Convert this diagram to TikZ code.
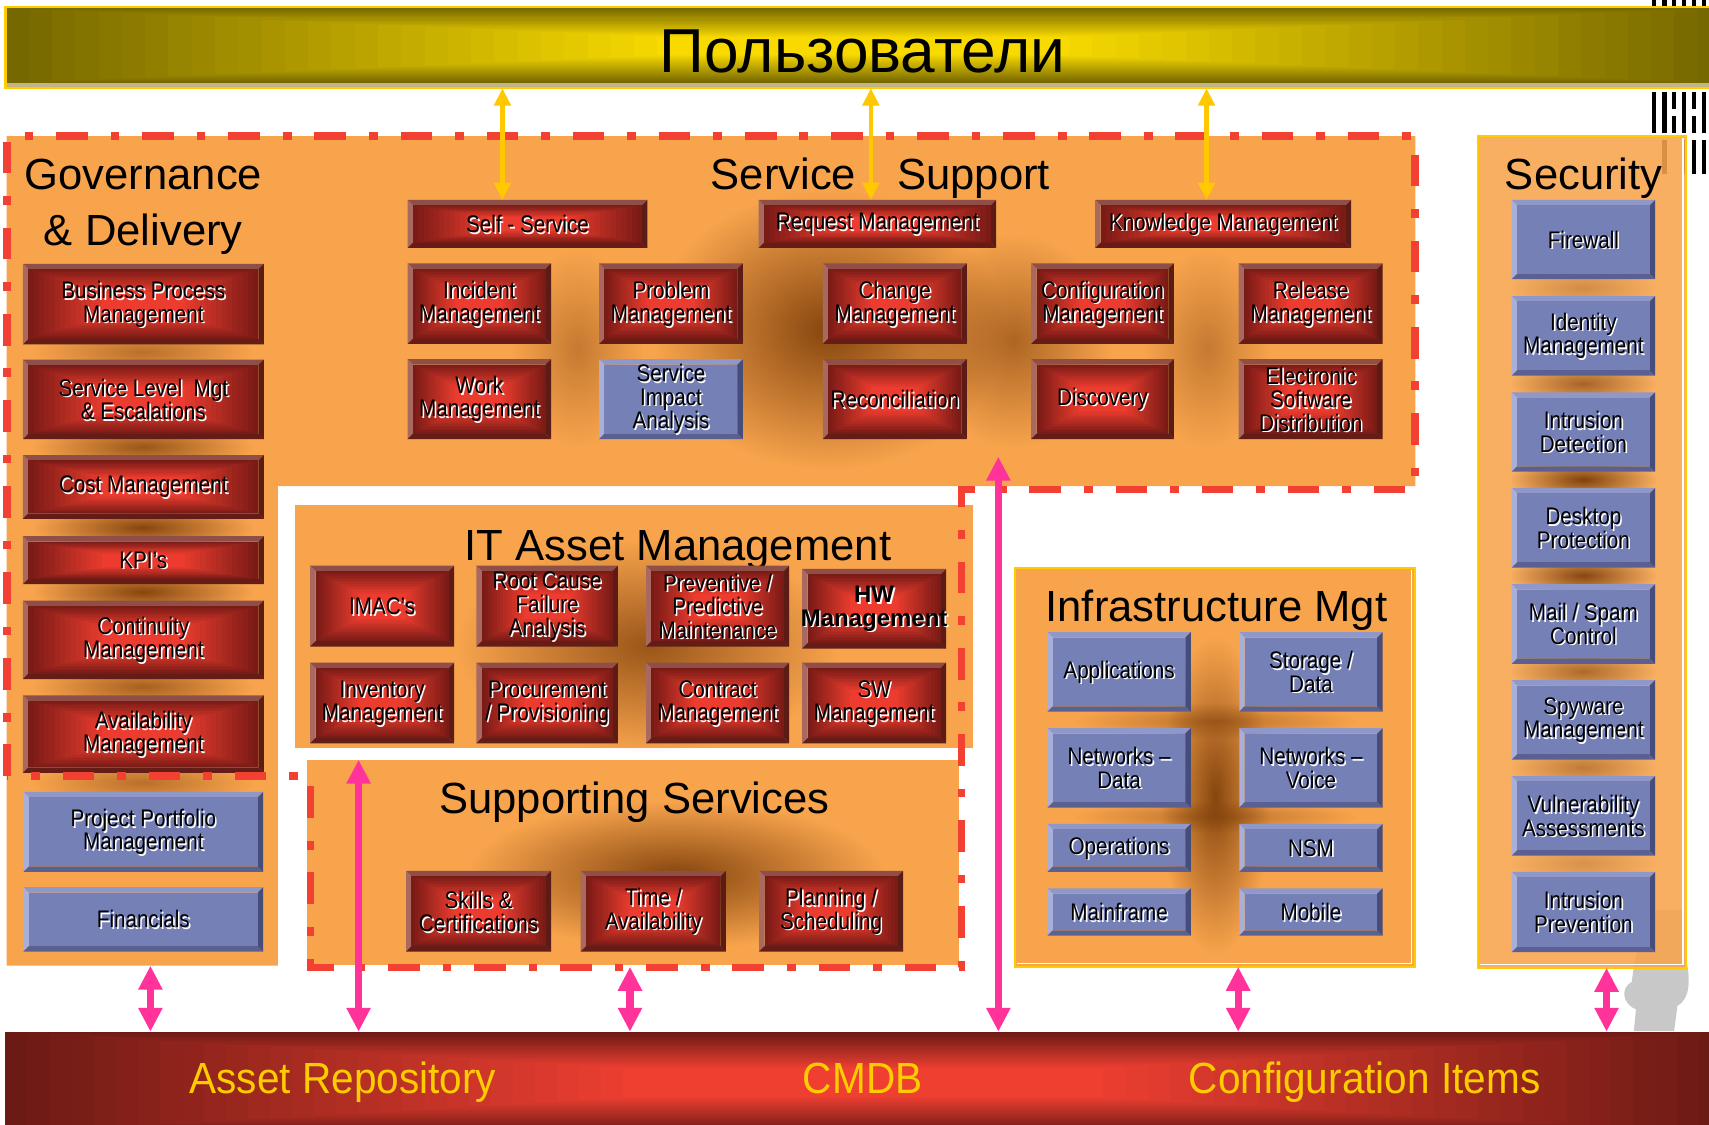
\documentclass[tikz,border=0pt]{standalone}
\usepackage{fontspec}
\setmainfont{Liberation Sans}
\newfontfamily\narrowfam[FakeStretch=0.86]{Liberation Sans}
\newfontfamily\barfam[FakeStretch=0.93]{Liberation Sans}
\newfontfamily\hwfam{Liberation Sans}
\usetikzlibrary{arrows.meta,fadings}
\tikzfading[name=glowfade, inner color=transparent!0, outer color=transparent!100]

\definecolor{orangec}{HTML}{F8A44D}
\definecolor{glowc}{HTML}{7A3C08}
\definecolor{rtopc}{HTML}{904E48}
\definecolor{rleftc}{HTML}{A86A60}
\definecolor{rbotc}{HTML}{641C16}
\definecolor{rrightc}{HTML}{5C1B14}
\definecolor{rhi}{HTML}{EC3C2F}
\definecolor{rdk}{HTML}{7A1B15}
\definecolor{btopc}{HTML}{8F98C8}
\definecolor{bleftc}{HTML}{A8AFD8}
\definecolor{bbotc}{HTML}{5A6192}
\definecolor{brightc}{HTML}{474D7A}
\definecolor{bfillc}{HTML}{7480B6}
\definecolor{dashc}{HTML}{F24033}
\definecolor{pinkc}{HTML}{FF3399}
\definecolor{yelc}{HTML}{FFC800}
\definecolor{yborder}{HTML}{FFCC00}
\definecolor{olivec}{HTML}{766800}
\definecolor{ybright}{HTML}{F8DA00}
\definecolor{maroonc}{HTML}{6C1A14}
\definecolor{cmdbred}{HTML}{EE3F31}
\definecolor{stripc}{HTML}{C2B487}
\definecolor{statuec}{HTML}{C8C8C8}

\newcommand\boxfont{\narrowfam\fontsize{22}{21.5}\selectfont}
\newcommand\titlefont{\fontsize{40}{48}\selectfont}

\tikzset{
  lbl/.style={font=\boxfont, align=center, inner sep=0pt, text=black},
  boxn/.style={inner sep=0pt, outer sep=0pt, draw=none},
  ttl/.style={font=\titlefont, inner sep=0pt, anchor=base, text=black},
  barlbl/.style={font=\barfam\fontsize{40}{40}\selectfont, inner sep=0pt, anchor=base, text=yborder},
  glow/.style={fill=glowc, path fading=glowfade, fit fading=true},
  dashline/.style={draw=dashc, line width=7pt, dash pattern=on 29pt off 21pt on 8pt off 21pt},
  parrow/.style={draw=pinkc, line width=6.5pt, {Triangle[length=22pt,width=21pt]}-{Triangle[length=22pt,width=21pt]}},
  yarrow/.style={draw=yelc, line width=4pt, {Triangle[length=16pt,width=15pt]}-{Triangle[length=16pt,width=15pt]}},
}

% rectangular (from centre) gradient: x1 y1 x2 y2 edge centre steps maxinset
\newcommand\rectgrad[8]{%
  \foreach \gri in {0,...,#7}{%
    \pgfmathsetmacro\grf{#8*\gri/#7}%
    \pgfmathsetmacro\grx{((#3)-(#1))*\grf}%
    \pgfmathsetmacro\gry{((#4)-(#2))*\grf}%
    \pgfmathtruncatemacro\grp{100*\gri/#7}%
    \fill[#6!\grp!#5] (#1+\grx,#2+\gry) rectangle (#3-\grx,#4-\gry);
  }}

% invisible named area: name x1 y1 x2 y2
\newcommand\areanode[5]{%
  \node[boxn, minimum width={((#4)-(#2))*1pt}, minimum height={((#5)-(#3))*1pt}] (#1) at ({((#2)+(#4))/2},{((#3)+(#5))/2}) {};}

% bevel frame: x1 y1 x2 y2 top left bottom right
\newcommand\bevel[8]{%
  \fill[#5] (#1,#2) -- (#3,#2) -- (#3-5,#2+5) -- (#1+5,#2+5) -- cycle;
  \fill[#6] (#1,#2) -- (#1+5,#2+5) -- (#1+5,#4-5) -- (#1,#4) -- cycle;
  \fill[#7] (#1,#4) -- (#1+5,#4-5) -- (#3-5,#4-5) -- (#3,#4) -- cycle;
  \fill[#8] (#3,#2) -- (#3,#4) -- (#3-5,#4-5) -- (#3-5,#2+5) -- cycle;}

% labels with white shadow
\newcommand\boxlabel[2]{%
  \node[lbl, text=white] (#1s) at ([shift={(1.5,1.5)}]#1.center) {#2};
  \node[lbl] (#1t) at (#1.center) {#2};}

% red box: name x1 y1 x2 y2 text
\newcommand\redbx[6]{%
  \bevel{#2}{#3}{#4}{#5}{rtopc}{rleftc}{rbotc}{rrightc}
  \rectgrad{#2+5}{#3+5}{#4-5}{#5-5}{rdk}{rhi}{14}{0.32}
  \areanode{#1}{#2}{#3}{#4}{#5}
  \boxlabel{#1}{#6}}

% blue box
\newcommand\bluebx[6]{%
  \bevel{#2}{#3}{#4}{#5}{btopc}{bleftc}{bbotc}{brightc}
  \fill[bfillc] (#2+5,#3+5) rectangle (#4-5,#5-5);
  \areanode{#1}{#2}{#3}{#4}{#5}
  \boxlabel{#1}{#6}}

\begin{document}
\begin{tikzpicture}[x=1pt,y=-1pt]
\useasboundingbox (0,0) rectangle (1568,1032);
\fill[white] (0,0) rectangle (1568,1032);

% ---- stray stripes and statue at right edge
\foreach \sx in {1515.5,1525,1534,1543,1552,1561.5}{
  \fill[black] (\sx,0) rectangle (\sx+4,6);
  \fill[black] (\sx,84) rectangle (\sx+4,122);
}
\foreach \sx in {1525,1543,1552,1561.5}{
  \fill[black] (\sx,128) rectangle (\sx+4,160);
}
\fill[white] (1534,100) rectangle (1538,106);
\fill[white] (1552,100) rectangle (1556,106);
\fill[statuec] (1499,946) -- (1501,926) .. controls (1488,921) and (1487,906) .. (1497,901)
  -- (1500,880) -- (1508,858) -- (1514,835) -- (1545,835) -- (1547,880)
  .. controls (1551,898) and (1551,916) .. (1539,923) -- (1536,946) -- cycle;

% ---- named areas
\areanode{users}{5}{6.7}{1579}{81}
\areanode{cmdb}{5}{946.6}{1579}{1040}
\areanode{gov}{6}{125}{255}{886}
\areanode{ssup}{6}{125}{1298.5}{446}
\areanode{itam}{271}{463}{893}{686}
\areanode{supp}{282}{697}{880}{885}
\areanode{infra}{931}{521}{1298}{887}
\areanode{sec}{1356}{124.5}{1547}{888}

% ---- top bar
\rectgrad{5}{7.7}{1579}{76}{olivec}{ybright}{28}{0.38}
\fill[stripc] (5,76) rectangle (1579,80);
\draw[yborder, line width=2pt] (users.north west) rectangle (users.south east);
\node[font=\fontsize{57}{57}\selectfont, anchor=base, inner sep=0pt] (userst) at (791.5,66.7) {Пользователи};

% ---- bottom bar
\rectgrad{5}{946.6}{1579}{1040}{maroonc}{cmdbred}{28}{0.36}
\node[barlbl] (assetrep) at (314.5,1003) {Asset Repository};
\node[barlbl] (cmdbt) at (791.5,1003) {CMDB};
\node[barlbl] (confitems) at (1252,1003) {Configuration Items};

% ---- orange containers
\fill[orangec] (gov.north west) -- (ssup.north east) -- (ssup.south east) -- (ssup.south -| gov.east)
  -- (gov.south east) -- (gov.south west) -- cycle;
\fill[orangec] (itam.north west) rectangle (itam.south east);
\fill[orangec] (supp.north west) rectangle (supp.south east);
\fill[orangec] (infra.north west) rectangle (infra.south east);
\draw[yborder, line width=2pt] (infra.north west) rectangle (infra.south east);
\draw[white, line width=1.2pt] (933,884) -- (1295,884) -- (1295,523);
\fill[orangec, fill opacity=0.88] (sec.north west) rectangle (sec.south east);
\draw[yborder, line width=2pt] (sec.north west) rectangle (sec.south east);
\draw[white, line width=1.2pt] (1358,885) -- (1544,885) -- (1544,126.5);

% ---- brown glows
\foreach \gy/\go in {323/0.5,410/0.75,484/0.9,543/0.9,630/0.65,718/0.5}{
  \fill[glow, fill opacity=\go] (30,\gy-22) rectangle (232,\gy+22);
}
\fill[glow, fill opacity=0.9] (600,175) rectangle (920,430);
\fill[glow, fill opacity=0.6] (840,215) rectangle (1020,410);
\fill[glow, fill opacity=0.4] (470,230) rectangle (590,410);
\fill[glow, fill opacity=0.4] (1050,230) rectangle (1165,410);
\fill[glow, fill opacity=0.75] (420,495) rectangle (770,690);
\fill[glow, fill opacity=0.9] (430,735) rectangle (810,870);
\fill[glow, fill opacity=0.9] (1065,585) rectangle (1165,875);
\fill[glow, fill opacity=0.5] (985,645) rectangle (1245,678);
\fill[glow, fill opacity=0.5] (985,734) rectangle (1245,764);
\foreach \gy/\go in {264/0.3,352/0.65,440/0.95,528/0.9,616/0.6,704/0.45,792/0.25}{
  \fill[glow, fill opacity=\go] (1385,\gy-20) rectangle (1520,\gy+20);
}

% ---- titles
\node[ttl] (govt1) at (131.5,174) {Governance};
\node[ttl] (govt2) at (131.5,225) {\& Delivery};
\node[ttl, anchor=base west] (sst1) at (652,174) {Service};
\node[ttl, anchor=base west] (sst2) at (823,174) {Support};
\node[ttl] (sect) at (1453,174) {Security};
\node[ttl] (itamt) at (622,514) {IT Asset Management};
\node[ttl] (infrat) at (1116,570) {Infrastructure Mgt};
\node[ttl] (suppt) at (582,746) {Supporting Services};

% ---- Governance & Delivery boxes
\redbx{bpm}{21}{242}{242}{316}{Business Process\\Management}
\redbx{slm}{21}{330}{242}{403}{Service Level\ \ Mgt\\\& Escalations}
\redbx{cost}{21}{417.5}{242}{476}{Cost Management}
\redbx{kpi}{21}{492}{242}{536}{KPI’s}
\redbx{cont}{21}{551}{242}{623}{Continuity\\Management}
\redbx{avail}{21}{638}{242}{709}{Availability\\Management}
\bluebx{ppm}{21.5}{726.5}{241.5}{800}{Project Portfolio\\Management}
\bluebx{fin}{21.5}{814}{241.5}{873}{Financials}

% ---- Service Support boxes
\redbx{self}{374}{183.5}{594}{227.5}{Self - Service}
\redbx{req}{696}{183.5}{914}{227.5}{Request Management}
\redbx{know}{1004.7}{183.5}{1239.6}{227.5}{Knowledge Management}
\redbx{inc}{374}{241.6}{505.6}{315.6}{Incident\\Management}
\redbx{prob}{549.6}{241.6}{681.6}{315.6}{Problem\\Management}
\redbx{chg}{755}{241.6}{887}{315.6}{Change\\Management}
\redbx{conf}{946}{241.6}{1077}{315.6}{Configuration\\Management}
\redbx{rel}{1136.5}{241.6}{1268.6}{315.6}{Release\\Management}
\redbx{work}{374}{329.5}{505.6}{402.8}{Work\\Management}
\bluebx{sia}{549.6}{329.5}{681.6}{402.8}{Service\\Impact\\Analysis}
\redbx{recon}{755}{329.5}{887}{402.8}{Reconciliation}
\redbx{disc}{946}{329.5}{1077}{402.8}{Discovery}
\redbx{esd}{1136.5}{329.5}{1268.6}{402.8}{Electronic\\Software\\Distribution}

% ---- IT Asset Management boxes
\redbx{imac}{284.5}{519}{416.7}{593.3}{IMAC’s}
\redbx{rcfa}{437}{519}{567}{593.3}{Root Cause\\Failure\\Analysis}
\redbx{prev}{592.7}{519}{724}{593.3}{Preventive /\\Predictive\\Maintenance}
\redbx{hw}{736}{522}{868}{595}{{\hwfam\bfseries HW}\\{\hwfam\bfseries Management}}
\redbx{inv}{284.5}{608}{416.7}{682}{Inventory\\Management}
\redbx{proc}{437}{608}{567}{682}{Procurement\\/ Provisioning}
\redbx{contr}{592.7}{608}{724}{682}{Contract\\Management}
\redbx{sw}{736}{608}{868}{682}{SW\\Management}

% ---- Supporting Services boxes
\redbx{skills}{372.5}{799}{505.6}{873}{Skills \&\\Certifications}
\redbx{time}{532.8}{799}{666}{873}{Time /\\Availability}
\redbx{plan}{696.5}{799}{828.5}{873}{Planning /\\Scheduling}

% ---- Infrastructure Mgt boxes
\bluebx{app}{961}{580}{1092.5}{653}{Applications}
\bluebx{stor}{1137}{580}{1268.6}{653}{Storage /\\Data}
\bluebx{netd}{961}{668}{1092.5}{741}{Networks –\\Data}
\bluebx{netv}{1137}{668}{1268.6}{741}{Networks –\\Voice}
\bluebx{ops}{961}{756}{1092.5}{800}{Operations}
\bluebx{nsm}{1137}{756}{1268.6}{800}{NSM}
\bluebx{mainf}{961}{815}{1092.5}{858.5}{Mainframe}
\bluebx{mob}{1137}{815}{1268.6}{858.5}{Mobile}

% ---- Security boxes
\bluebx{fw}{1387}{183.5}{1518.5}{256}{Firewall}
\bluebx{idm}{1387}{271.6}{1518.5}{344.7}{Identity\\Management}
\bluebx{ids}{1387}{360}{1518.5}{432.8}{Intrusion\\Detection}
\bluebx{dp}{1387}{447.7}{1518.5}{520.7}{Desktop\\Protection}
\bluebx{mail}{1387}{536}{1518.5}{609}{Mail / Spam\\Control}
\bluebx{spy}{1387}{624}{1518.5}{697}{Spyware\\Management}
\bluebx{vul}{1387}{712}{1518.5}{785}{Vulnerability\\Assessments}
\bluebx{ips}{1387}{800}{1518.5}{873.5}{Intrusion\\Prevention}

% ---- dashed red outline
\draw[dashline] (6.5,712) -- (6.5,125) -- (1298.5,125) -- (1298.5,449) -- (882,449)
  -- (882,887.5) -- (285,887.5) -- (285,712) -- cycle;

% ---- connectors
\coordinate (ya1) at (461,0);
\coordinate (ya2) at (799,0);
\coordinate (ya3) at (1107,0);
\draw[yarrow] (users.south -| ya1) -- (self.north -| ya1);
\draw[yarrow] (users.south -| ya2) -- (req.north -| ya2);
\draw[yarrow] (users.south -| ya3) -- (know.north -| ya3);

\coordinate (pa1) at (138,0);
\coordinate (pa2) at (329,0);
\coordinate (pa3) at (578,0);
\coordinate (pa4top) at (916,419);
\coordinate (pa5) at (1136,0);
\coordinate (pa6) at (1474,0);
\draw[parrow] (gov.south -| pa1) -- (cmdb.north -| pa1);
\draw[parrow] (supp.north -| pa2) -- (cmdb.north -| pa2);
\draw[parrow] ([yshift=-2pt]supp.south -| pa3) -- (cmdb.north -| pa3);
\draw[parrow] (pa4top) -- (cmdb.north -| pa4top);
\draw[parrow] (infra.south -| pa5) -- (cmdb.north -| pa5);
\draw[parrow] (sec.south -| pa6) -- (cmdb.north -| pa6);
\end{tikzpicture}
\end{document}
